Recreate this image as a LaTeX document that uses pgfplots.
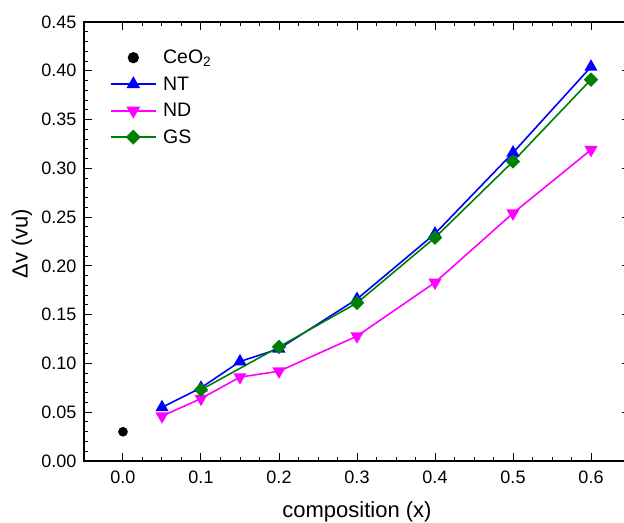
\documentclass[border=0pt]{standalone}
\usepackage{fontspec}
\setmainfont{Liberation Sans}
\usepackage{pgfplots}
\pgfplotsset{compat=1.18}
\definecolor{ogreen}{RGB}{0,128,0}
\definecolor{omag}{RGB}{255,0,255}
\definecolor{oblue}{RGB}{0,0,255}
\begin{document}
\begin{tikzpicture}
\begin{axis}[
  name=ax,
  scale only axis,
  width=546pt, height=439pt,
  xmin=-0.05, xmax=0.65, ymin=0, ymax=0.45,
  xtick={0,0.1,0.2,0.3,0.4,0.5,0.6},
  ytick={0,0.05,0.1,0.15,0.2,0.25,0.3,0.35,0.4,0.45},
  minor x tick num=3, minor y tick num=4,
  tick align=inside,
  major tick length=8pt, minor tick length=4.5pt,
  every tick/.style={black, line width=1pt},
  axis line style={line width=1.3pt},
  /pgf/number format/assume math mode=true,
  scaled ticks=false,
  tick label style={font=\fontsize{18}{21.6}\selectfont},
  xticklabel style={/pgf/number format/fixed, /pgf/number format/fixed zerofill, /pgf/number format/precision=1, yshift=-6pt},
  yticklabel style={/pgf/number format/fixed, /pgf/number format/fixed zerofill, /pgf/number format/precision=2, xshift=-4pt},
  label style={font=\fontsize{22}{26}\selectfont},
  xlabel={composition (x)},
  ylabel={Δv (vu)},
  xlabel style={at={(axis description cs:0.5,-0.115)}, anchor=center},
  ylabel style={at={(axis description cs:-0.1136,0.495)}, anchor=center},
  legend style={draw=none, fill=none, at={(rel axis cs:0.041,0.9455)}, anchor=north west,
    font=\fontsize{19.5}{23}\selectfont, row sep=7.5pt},
  legend cell align=left,
  legend image code/.code={\draw[mark repeat=2,mark phase=2,#1,line width=2pt] plot coordinates {(0cm,0cm) (0.8cm,0cm) (1.6cm,0cm)};},
]
\addplot[only marks, mark=*, mark size=4.6pt, black] coordinates {(0,0.030)};
\addlegendentry{\hspace{4pt}CeO\textsubscript{2}}
\addplot[oblue, line width=1.6pt, mark=triangle*, mark size=6pt, mark options={solid}] coordinates {
(0.05,0.055) (0.1,0.075) (0.15,0.102) (0.2,0.115) (0.3,0.166) (0.4,0.233) (0.5,0.316) (0.6,0.404)};
\addlegendentry{\hspace{4pt}NT}
\addplot[omag, line width=1.6pt, mark=triangle*, mark size=6pt, mark options={rotate=180}] coordinates {
(0.05,0.046) (0.1,0.064) (0.15,0.086) (0.2,0.092) (0.3,0.128) (0.4,0.183) (0.5,0.254) (0.6,0.319)};
\addlegendentry{\hspace{4pt}ND}
\addplot[ogreen, line width=1.6pt, mark=square*, mark size=4.3pt, mark options={rotate=45}] coordinates {
(0.1,0.073) (0.2,0.117) (0.3,0.162) (0.4,0.229) (0.5,0.307) (0.6,0.391)};
\addlegendentry{\hspace{4pt}GS}
\end{axis}
\pgfresetboundingbox
\useasboundingbox ([xshift=-84pt,yshift=-61.5pt]ax.south west) rectangle ([xshift=540pt,yshift=22pt]ax.north west);
\end{tikzpicture}
\end{document}
